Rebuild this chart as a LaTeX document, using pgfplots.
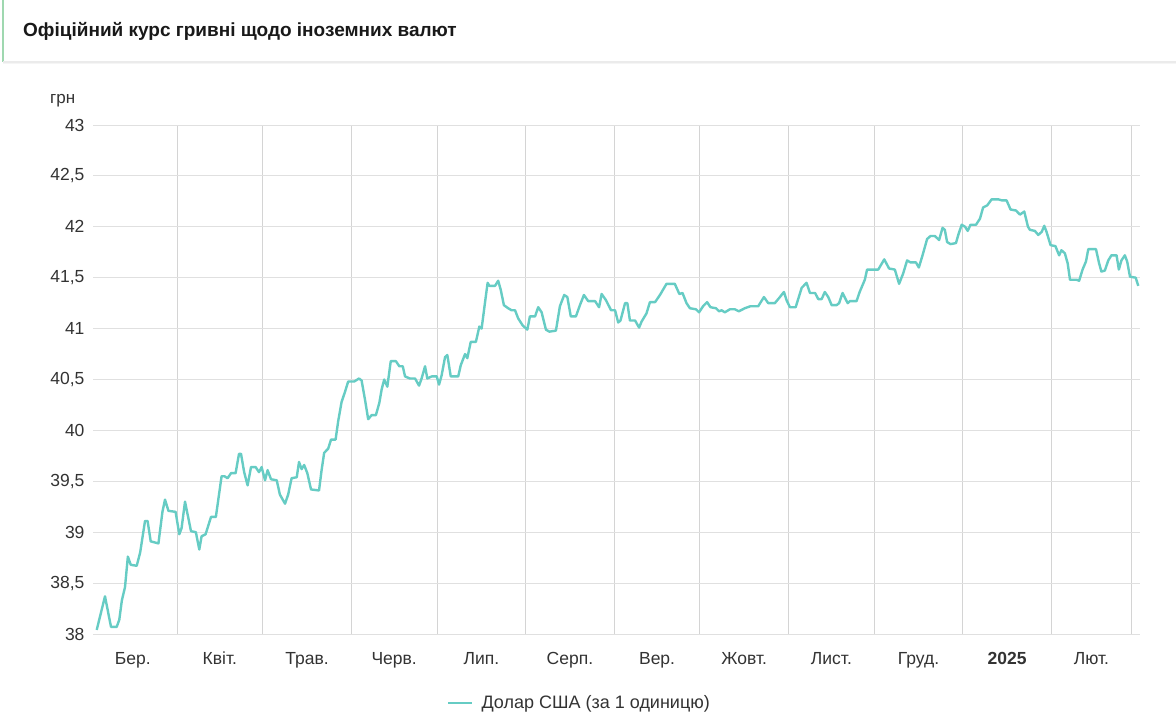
\documentclass[border=0pt]{standalone}
\usepackage{fontspec}
\setmainfont{Liberation Sans}
\usepackage{pgfplots}
\pgfplotsset{compat=1.18}
\definecolor{usd}{HTML}{66CCC4}
\definecolor{hgrid}{HTML}{E0E0E0}
\definecolor{vgrid}{HTML}{D4D4D4}
\definecolor{txt}{HTML}{333333}
\definecolor{greenbar}{HTML}{9FD8B0}
\pgfplotstableread{
day rate
2.9 38.04
5.8 38.37
7.9 38.07
9.9 38.07
10.8 38.14
11.7 38.33
12.8 38.46
13.8 38.76
14.8 38.68
16.9 38.67
18.1 38.80
19.8 39.11
20.7 39.11
21.8 38.91
24.5 38.89
25.9 39.20
26.8 39.32
28.0 39.21
30.5 39.20
31.8 38.98
32.6 39.04
33.8 39.30
35.9 39.01
37.6 39.00
38.8 38.83
39.6 38.96
41.0 38.98
42.9 39.15
44.6 39.15
46.6 39.55
47.6 39.55
48.7 39.53
49.9 39.58
51.5 39.58
52.7 39.77
53.4 39.77
54.5 39.59
55.7 39.46
56.9 39.64
58.5 39.64
59.7 39.59
60.6 39.64
61.8 39.51
62.7 39.61
63.9 39.52
65.9 39.51
67.0 39.37
68.8 39.28
69.9 39.37
71.1 39.53
72.9 39.54
73.7 39.69
74.6 39.62
75.5 39.66
76.6 39.58
77.9 39.42
80.7 39.41
81.6 39.61
82.5 39.78
83.9 39.82
84.9 39.91
86.5 39.91
87.4 40.09
88.6 40.28
89.8 40.38
90.9 40.48
93.0 40.48
94.7 40.51
95.6 40.49
96.8 40.30
97.9 40.11
99.1 40.15
100.6 40.15
101.8 40.27
102.6 40.40
103.5 40.50
104.6 40.43
105.8 40.68
107.6 40.68
108.8 40.63
110.0 40.63
110.8 40.53
112.5 40.51
114.3 40.51
115.7 40.44
116.6 40.51
117.8 40.63
118.6 40.51
120.1 40.53
121.9 40.53
122.7 40.45
123.6 40.54
124.8 40.72
125.6 40.74
126.8 40.53
129.4 40.53
130.3 40.64
131.8 40.75
132.6 40.71
133.8 40.87
135.6 40.87
136.8 41.02
137.6 41.00
138.8 41.26
139.7 41.45
140.3 41.42
142.3 41.42
143.4 41.47
144.3 41.38
145.4 41.23
146.9 41.20
148.1 41.18
149.3 41.18
150.4 41.10
152.0 41.03
153.6 40.99
154.5 41.12
156.3 41.12
157.4 41.21
158.6 41.16
160.1 40.99
161.3 40.97
163.6 40.98
165.0 41.22
166.5 41.33
167.6 41.31
168.8 41.12
170.6 41.12
172.0 41.23
173.4 41.33
174.9 41.27
177.3 41.27
178.7 41.21
179.6 41.34
181.1 41.28
182.9 41.18
184.3 41.18
185.4 41.06
186.2 41.08
187.8 41.25
188.6 41.25
189.5 41.08
191.3 41.08
192.7 41.01
193.6 41.07
195.3 41.15
196.5 41.26
198.3 41.26
200.0 41.33
202.3 41.44
205.2 41.44
206.8 41.34
207.9 41.35
209.3 41.25
210.5 41.20
212.6 41.19
213.7 41.16
215.1 41.22
216.5 41.26
217.7 41.21
219.6 41.20
220.7 41.17
221.6 41.18
222.7 41.16
224.5 41.19
226.2 41.19
227.6 41.17
229.7 41.20
231.7 41.22
234.4 41.22
236.4 41.31
237.9 41.25
240.2 41.25
241.7 41.30
243.4 41.36
244.3 41.28
245.5 41.21
247.5 41.21
249.6 41.40
251.3 41.45
252.5 41.35
254.3 41.35
255.4 41.29
256.6 41.29
257.7 41.36
258.9 41.31
260.1 41.23
261.8 41.23
262.7 41.25
263.9 41.35
265.7 41.25
266.5 41.27
268.8 41.27
269.9 41.36
271.7 41.48
272.5 41.58
274.6 41.58
276.4 41.58
278.5 41.68
280.2 41.59
282.2 41.58
283.7 41.44
285.1 41.54
286.5 41.67
287.7 41.65
289.6 41.65
290.6 41.60
291.9 41.72
293.5 41.88
294.7 41.91
296.2 41.91
297.7 41.87
298.9 41.99
299.7 41.97
300.5 41.85
301.7 41.83
303.6 41.84
304.4 41.92
305.6 42.02
306.8 42.00
307.7 41.96
308.7 42.02
310.6 42.02
312.0 42.08
313.1 42.19
314.5 42.21
316.1 42.27
318.4 42.27
319.6 42.26
321.3 42.26
322.7 42.17
324.6 42.16
326.0 42.12
327.5 42.15
328.8 42.00
329.5 41.97
331.2 41.96
332.4 41.92
333.6 41.95
334.5 42.01
335.3 41.95
336.7 41.82
338.4 41.81
339.7 41.72
340.5 41.77
341.7 41.74
342.7 41.64
343.5 41.48
345.8 41.48
346.7 41.47
347.9 41.58
349.1 41.66
349.9 41.78
352.6 41.78
353.7 41.64
354.5 41.56
355.7 41.57
356.9 41.67
358.0 41.72
359.8 41.72
360.6 41.58
361.5 41.67
362.7 41.72
363.5 41.66
364.5 41.51
366.5 41.50
367.4 41.42
}\usddata
\begin{document}
\begin{tikzpicture}
\path[use as bounding box, fill=white] (0pt,0pt) rectangle (1176pt,-727pt);
\fill[greenbar] (2pt,0pt) rectangle (4pt,-62pt);
\fill[black!8] (3pt,-61pt) rectangle (1176pt,-63pt);
\fill[black!4] (3pt,-63pt) rectangle (1176pt,-64pt);
\node[anchor=base west, inner sep=0pt, text=black!90, font=\fontsize{19}{22}\selectfont\bfseries] at (23pt,-36.5pt) {Офіційний курс гривні щодо іноземних валют};
\node[anchor=base west, inner sep=0pt, text=txt, font=\fontsize{17}{20}\selectfont] at (50pt,-104pt) {грн};
\begin{axis}[
  at={(93pt,-634pt)}, anchor=south west,
  scale only axis, width=1047pt, height=509pt,
  xmin=1.6, xmax=368, ymin=38, ymax=43,
  axis line style={draw=none},
  tick style={draw=none},
  major tick length=0pt, minor tick length=0pt,
  xtick={15.5,46,76.5,107,137.5,168.5,199,229.5,260,290.5,321.5,351},
  xticklabels={Бер.,Квіт.,Трав.,Черв.,Лип.,Серп.,Вер.,Жовт.,Лист.,Груд.,\textbf{2025},Лют.},
  minor xtick={31,61,92,122,153,184,214,245,275,306,337,365},
  xminorgrids, xmajorgrids=false,
  minor x grid style={vgrid, line width=1pt},
  ytick={38,38.5,...,43},
  ymajorgrids,
  major y grid style={hgrid, line width=1pt},
  /pgf/number format/fixed,
  /pgf/number format/use comma,
  /pgf/number format/precision=1,
  /pgf/number format/1000 sep={},
  /pgf/number format/assume math mode=true,
  tick label style={font=\fontsize{17.5}{20}\selectfont, text=txt},
  yticklabel style={xshift=-5pt},
  xticklabel style={yshift=-14pt, text height=12.5pt, text depth=0pt},
  legend style={at={(0.4647,-0.1356)}, anchor=center, draw=none, fill=none, font=\fontsize{18}{21}\selectfont, text=txt,
    /tikz/every odd column/.append style={column sep=6pt}},
  legend image code/.code={\draw[#1, line width=2.4pt] (0pt,0pt) -- (24pt,0pt);},
]
\addplot[usd, line width=2.4pt, line join=round] table[x=day, y=rate] {\usddata};
\addlegendentry{Долар США (за 1 одиницю)}
\end{axis}
\end{tikzpicture}
\end{document}
